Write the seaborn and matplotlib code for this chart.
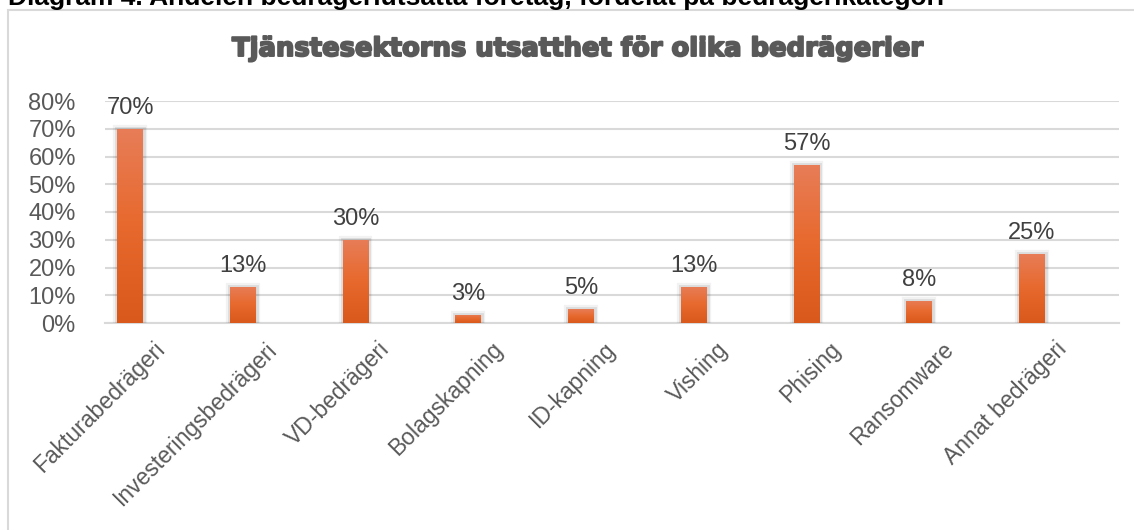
import matplotlib
matplotlib.use("Agg")
import matplotlib.pyplot as plt
import matplotlib.patheffects as pe
from matplotlib.patches import Rectangle
from matplotlib.colors import LinearSegmentedColormap
from matplotlib.transforms import ScaledTranslation
import numpy as np
import pandas as pd
import seaborn as sns

categories = ["Fakturabedrägeri", "Investeringsbedrägeri", "VD-bedrägeri", "Bolagskapning",
              "ID-kapning", "Vishing", "Phising", "Ransomware", "Annat bedrägeri"]
values = [0.70, 0.13, 0.30, 0.03, 0.05, 0.13, 0.57, 0.08, 0.25]
value_labels = ["70%", "13%", "30%", "3%", "5%", "13%", "57%", "8%", "25%"]
y_ticks = [0.0, 0.1, 0.2, 0.3, 0.4, 0.5, 0.6, 0.7, 0.8]
y_tick_labels = ["0%", "10%", "20%", "30%", "40%", "50%", "60%", "70%", "80%"]
title = "Tjänstesektorns utsatthet för olika bedrägerier"
caption = "Diagram 4. Andelen bedrägeriutsatta företag, fördelat på bedrägerikategori"

sns.set_theme(style="white")
plt.rcParams['font.family'] = ['Liberation Sans', 'DejaVu Sans']

W, H = 1134, 530
fig = plt.figure(figsize=(W / 100, H / 100), dpi=100)
fig.patch.set_facecolor("white")

# chart frame
fig.add_artist(Rectangle((7.5 / W, -0.05), 1.2, (H - 9.5) / H + 0.05, transform=fig.transFigure,
                         fill=False, edgecolor="#D9D9D9", linewidth=1.5))

# cut-off caption at top
fig.text(8 / W, 1 - 5 / H, caption, ha="left", va="baseline", fontsize=19,
         fontweight="bold", color="black")

# axes
ax_left, ax_right = 105 / W, 1119 / W
ax_bottom, ax_top = (H - 323) / H, (H - 101) / H
ax = fig.add_axes([ax_left, ax_bottom, ax_right - ax_left, ax_top - ax_bottom])

df = pd.DataFrame({"cat": categories, "val": values})
sns.barplot(data=df, x="cat", y="val", ax=ax, color="#E8692D", width=0.23,
            saturation=1, errorbar=None, zorder=3, linewidth=0)

step = 112.75
ax.set_ylim(0, 0.8)
ax.set_yticks(y_ticks)
ax.set_yticklabels(y_tick_labels, fontsize=17, color="#595959")
ax.tick_params(axis="y", length=0, pad=21)
ax.tick_params(axis="x", length=0, pad=0)
ax.yaxis.grid(True, color="#D9D9D9", linewidth=1.5, zorder=0)
ax.set_axisbelow(True)
for s in ["top", "right", "left"]:
    ax.spines[s].set_visible(False)
ax.spines["bottom"].set_color("#D9D9D9")
ax.spines["bottom"].set_linewidth(1.5)
ax.set_xlabel("")
ax.set_ylabel("")

# category labels
ax.set_xticks(range(len(categories)))
ax.set_xticklabels(categories, rotation=45, ha="right", va="center",
                   rotation_mode="anchor", fontsize=16.5, color="#595959")
offset = ScaledTranslation(31 / 100, -23 / 100, fig.dpi_scale_trans)
for lbl in ax.get_xticklabels():
    lbl.set_transform(lbl.get_transform() + offset)

# gradient fill and soft shadow on bars
cmap = LinearSegmentedColormap.from_list("g", ["#D9581C", "#E8692D", "#E77D58"])
grad = np.linspace(0, 1, 256).reshape(-1, 1)
for p in ax.patches:
    x0, y0 = p.get_x(), p.get_y()
    w, h = p.get_width(), p.get_height()
    p.set_edgecolor("none")
    p.set_path_effects([pe.Stroke(linewidth=6, foreground="#000000", alpha=0.05),
                        pe.Stroke(linewidth=3.5, foreground="#000000", alpha=0.09),
                        pe.Normal()])
    im = ax.imshow(grad, cmap=cmap, origin="lower", aspect="auto",
                   extent=[x0, x0 + w, y0, y0 + h], zorder=4)
    im.set_clip_path(p)

ax.set_xlim(-25 / step, 8 + (1119 - 1032) / step)
ax.set_ylim(0, 0.8)

# value labels
for i, (v, t) in enumerate(zip(values, value_labels)):
    ax.annotate(t, (i, v), xytext=(0, 7), textcoords="offset points",
                ha="center", va="bottom", fontsize=17, color="#404040", zorder=6)

# title
fig.text(578 / W, 1 - 56 / H, title, ha="center", va="baseline", fontsize=18.6,
         fontweight="bold", color="#595959", family=["DejaVu Sans"],
         path_effects=[pe.withStroke(linewidth=1.4, foreground="#595959")])

fig.savefig("out.png", dpi=100, facecolor="white")
